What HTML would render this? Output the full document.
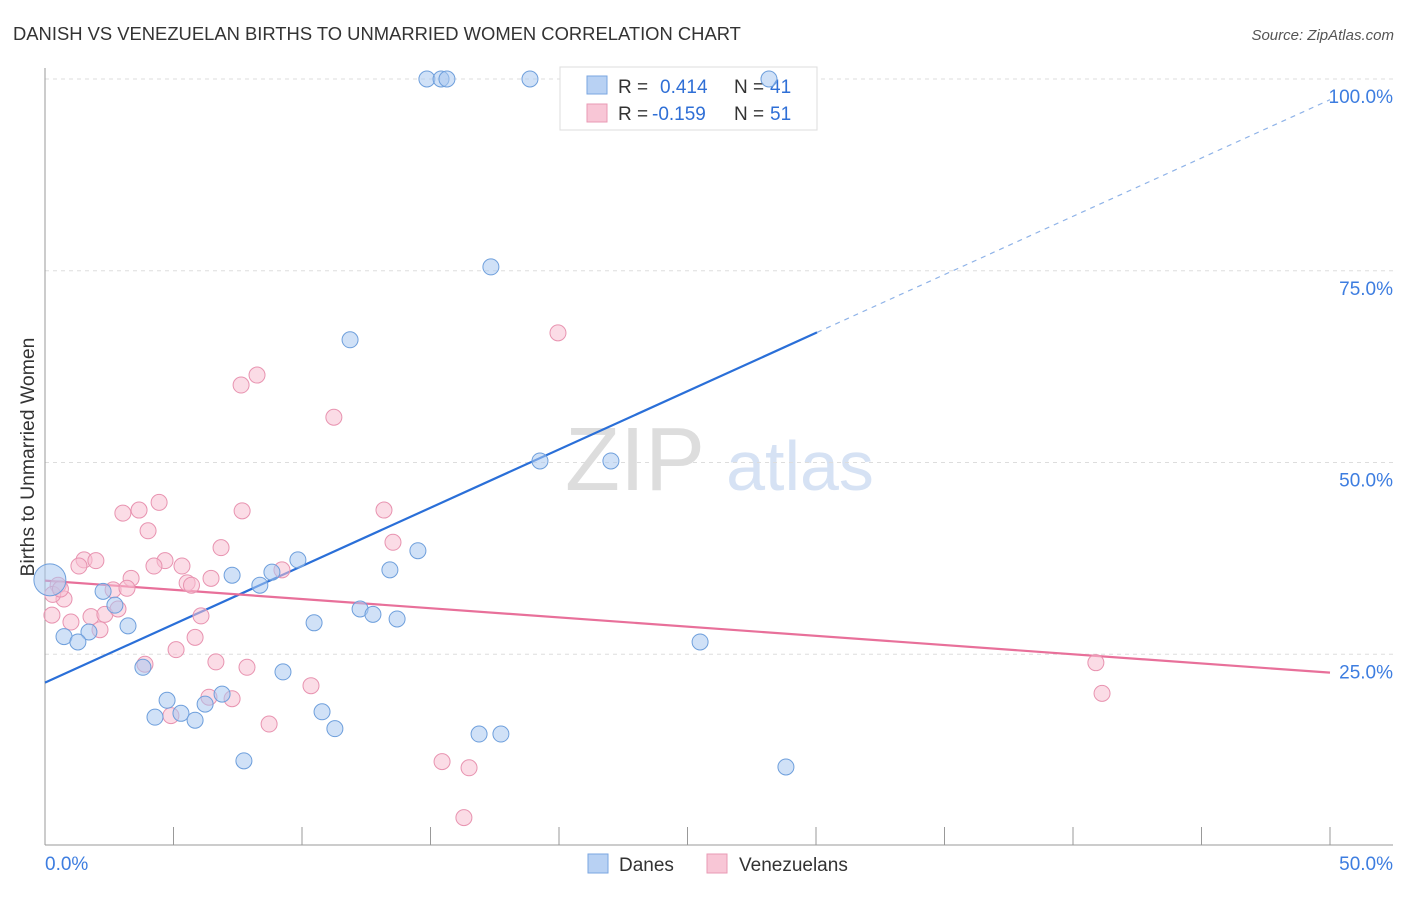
<!DOCTYPE html>
<html><head><meta charset="utf-8"><style>
body{margin:0;background:#fff;font-family:"Liberation Sans",sans-serif;}
svg text{font-family:"Liberation Sans",sans-serif;}
</style></head><body>
<svg id="chart" width="1406" height="892">
<text x="13" y="40" font-size="18.4" fill="#333">DANISH VS VENEZUELAN BIRTHS TO UNMARRIED WOMEN CORRELATION CHART</text>
<text x="1394" y="40" font-size="15" fill="#555" font-style="italic" text-anchor="end">Source: ZipAtlas.com</text>
<text x="0" y="0" font-size="19.4" fill="#333" transform="translate(34,457) rotate(-90)" text-anchor="middle">Births to Unmarried Women</text>
<text x="635" y="490" font-size="90" fill="#ddd" text-anchor="middle" font-family="Liberation Serif">ZIP</text>
<text x="800" y="490" font-size="70" fill="#d6e2f4" text-anchor="middle">atlas</text>
<g id="grid"></g><g id="axes"></g><g id="trends"></g>
<g>
<rect x="560" y="67" width="257" height="63" fill="#fff" stroke="#ddd"/>
<rect x="587" y="76" width="20" height="18" fill="#b8d1f3" stroke="#7aa6e0"/>
<text x="618" y="93" font-size="19" fill="#333">R = </text><text x="660" y="93" font-size="19" fill="#2f6fd6">0.414</text>
<text x="734" y="93" font-size="19" fill="#333">N = </text><text x="770" y="93" font-size="19" fill="#2f6fd6">41</text>
<rect x="587" y="104" width="20" height="18" fill="#f8c6d6" stroke="#e99ab4"/>
<text x="618" y="120" font-size="19" fill="#333">R = </text><text x="652" y="120" font-size="19" fill="#2f6fd6">-0.159</text>
<text x="734" y="120" font-size="19" fill="#333">N = </text><text x="770" y="120" font-size="19" fill="#2f6fd6">51</text>
</g>
<g id="points"></g>
<g>
<rect x="588" y="854" width="20" height="19" fill="#b8d1f3" stroke="#7aa6e0"/>
<text x="619" y="871" font-size="19" fill="#333">Danes</text>
<rect x="707" y="854" width="20" height="19" fill="#f8c6d6" stroke="#e99ab4"/>
<text x="739" y="871" font-size="19" fill="#333">Venezuelans</text>
</g>
</svg>
<script>
const blueX=[14.86,15.41,15.64,18.87,28.17,17.35,11.87,19.26,22.02,14.51,13.42,9.84,8.83,8.36,7.28,2.26,2.72,3.23,1.71,0.74,1.28,0.19,12.26,12.76,13.70,10.47,25.49,9.26,3.81,4.75,6.89,6.23,5.29,4.28,5.84,10.78,11.28,7.74,16.89,17.74,28.83];
const blueY=[100,100,100,100,100,75.5,66.0,50.2,50.2,38.5,36.0,37.3,35.7,34.0,35.3,33.2,31.4,28.7,27.9,27.3,26.6,34.7,30.9,30.2,29.6,29.1,26.6,22.7,23.3,19.0,19.8,18.5,17.3,16.8,16.4,17.5,15.3,11.1,14.6,14.6,10.3];
const pinkX=[19.96,8.25,7.63,11.24,4.44,3.03,3.66,7.67,13.19,4.01,13.54,6.85,1.52,1.98,1.32,4.67,4.24,5.33,9.22,3.35,6.46,5.53,2.65,3.19,0.51,0.74,0.27,1.79,2.33,2.84,6.07,1.01,2.14,5.84,5.10,6.65,7.86,3.89,6.38,7.28,10.35,8.72,4.90,15.45,16.50,16.30,40.89,41.13,0.3,0.6,5.7];
const pinkY=[66.9,61.4,60.1,55.9,44.8,43.4,43.8,43.7,43.8,41.1,39.6,38.9,37.3,37.2,36.5,37.2,36.5,36.5,36.0,34.9,34.9,34.3,33.4,33.6,34.0,32.2,30.1,29.9,30.2,30.9,30.0,29.2,28.2,27.2,25.6,24.0,23.3,23.7,19.4,19.2,20.9,15.9,17.0,11.0,10.2,3.7,23.9,19.9,32.8,33.5,34.0];
const yTicks=[25,50,75,100];
const xTickLabels=["0.0%","50.0%"];
const blueTrend=[21.3,1.52];
const pinkTrend=[34.6,-0.24];
const X0=45,X1=1330,Y0=846,YS=7.67;
const sx=v=>X0+(X1-X0)*v/50, sy=v=>Y0-v*YS;
const NS="http://www.w3.org/2000/svg";
function mk(tag,attrs,parent){const e=document.createElementNS(NS,tag);for(const k in attrs)e.setAttribute(k,attrs[k]);document.getElementById(parent).appendChild(e);return e;}
yTicks.forEach(t=>{
 const l=mk('line',{x1:45,x2:1393,y1:sy(t),y2:sy(t),stroke:'#ddd','stroke-dasharray':'4,4'},'grid');
 
 
 const tx=mk('text',{x:1393,y:sy(t)+24,'font-size':19,fill:'#3d7de0','text-anchor':'end'},'grid');
 tx.textContent=t.toFixed(1)+'%';
 
 
});
const ax=mk('line',{x1:45,x2:1393,y1:845,y2:845,stroke:'#999'},'axes');


const ay=mk('line',{x1:45,x2:45,y1:68,y2:845,stroke:'#999'},'axes');


for(let i=0;i<=10;i++){const t=mk('line',{x1:sx(i*5),x2:sx(i*5),y1:827,y2:845,stroke:'#999'},'axes');
 
 }
[[0,'start',45],[1,'end',1393]].forEach(([i,a,x])=>{const t=mk('text',{x:x,y:870,'font-size':19,fill:'#3d7de0','text-anchor':a},'axes');t.textContent=xTickLabels[i];
 
 });
function pts(xs,ys,fill,stroke,name){xs.forEach((x,i)=>{const big=(name==='dane-point'&&i===21);
 const c=mk('circle',{cx:sx(x),cy:sy(ys[i]),r:big?16:8,fill:fill,'fill-opacity':0.55,stroke:stroke,'stroke-width':1},'points');
 
 });}
pts(pinkX,pinkY,'#f8c0d2','#e893b0','venezuelan-point');
pts(blueX,blueY,'#a9c8f0','#6e9fdc','dane-point');
const bEnd=30.04;
const b1=mk('line',{x1:sx(0),y1:sy(blueTrend[0]),x2:sx(bEnd),y2:sy(blueTrend[0]+blueTrend[1]*bEnd),stroke:'#2a6fd8','stroke-width':2.2},'trends');


const b2=mk('line',{x1:sx(bEnd),y1:sy(blueTrend[0]+blueTrend[1]*bEnd),x2:sx(50),y2:sy(blueTrend[0]+blueTrend[1]*50),stroke:'#8fb3e8','stroke-width':1.2,'stroke-dasharray':'5,5'},'trends');


const p1=mk('line',{x1:sx(0),y1:sy(pinkTrend[0]),x2:sx(50),y2:sy(pinkTrend[0]+pinkTrend[1]*50),stroke:'#e8709a','stroke-width':2.2},'trends');


</script>
</body></html>
